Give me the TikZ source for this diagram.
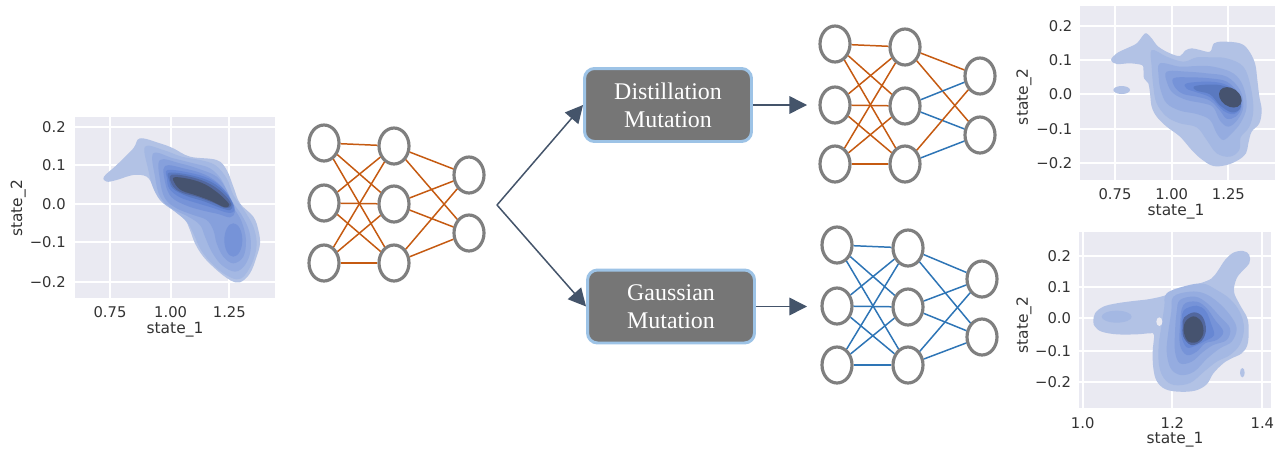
\documentclass[tikz,border=0pt]{standalone}
\usepackage{fontspec}
\setmainfont{Liberation Serif}
\newfontfamily\djv{DejaVu Sans}
\usetikzlibrary{shapes.geometric,arrows.meta}
\definecolor{ngray}{HTML}{7F7F7F}
\definecolor{eorange}{HTML}{C55A11}
\definecolor{eblue}{HTML}{2E75B6}
\definecolor{boxgray}{HTML}{767676}
\definecolor{boxblue}{HTML}{9DC3E6}
\definecolor{arrowc}{HTML}{44546A}
\definecolor{plotbg}{HTML}{EAEAF2}
\definecolor{tickc}{HTML}{333333}
\definecolor{lv1}{HTML}{B2C2E5}
\definecolor{lv2}{HTML}{A4B8E3}
\definecolor{lv3}{HTML}{95ACE0}
\definecolor{lv4}{HTML}{86A0DC}
\definecolor{lv5}{HTML}{7693D8}
\definecolor{lv6}{HTML}{6787D3}
\definecolor{lv7}{HTML}{5A79C0}
\definecolor{lv8}{HTML}{52679E}
\definecolor{lv9}{HTML}{46536F}
\begin{document}
\begin{tikzpicture}[x=0.02cm, y=-0.02cm,
  neuron/.style={ellipse, draw=ngray, line width=1.8pt, minimum width=0.6cm, minimum height=0.72cm, inner sep=0pt},
  oe/.style={draw=eorange, line width=0.85pt},
  be/.style={draw=eblue, line width=0.85pt},
  mbox/.style={rounded corners=0.2cm, fill=boxgray, draw=boxblue, line width=1.7pt, minimum width=3.34cm, minimum height=1.46cm, text=white, font=\fontsize{13.6}{16}\selectfont, align=center, inner sep=0pt},
  arr/.style={draw=arrowc, line width=0.85pt, -{Triangle[length=10pt,width=10pt]}},
  gridl/.style={draw=white, line width=1pt},
  tickl/.style={font=\djv\fontsize{8.4}{10}\selectfont, text=tickc, inner sep=0pt},
  axl/.style={font=\djv\fontsize{8.8}{10}\selectfont, text=tickc, inner sep=0pt},
  kde/.style={smooth cycle, tension=0.6},
]
\fill[white] (0,0) rectangle (1283,450);
\useasboundingbox (0,0) rectangle (1283,450);

% ---------------- left plot ----------------
\begin{scope}[shift={(0,110)}, scale=1/3]
  \fill[plotbg] (225,20) rectangle (825,565);
  \foreach \gx in {330,512,688} \draw[gridl] (\gx,20) -- (\gx,565);
  \foreach \gy in {50,165,282,397,515} \draw[gridl] (225,\gy) -- (825,\gy);
  \fill[lv1] plot[kde] coordinates {(312,200) (350,165) (400,115) (420,85) (480,100) (520,115) (570,140) (650,150) (680,180) (700,230) (720,280) (760,320) (775,360) (780,400) (770,440) (750,490) (720,517) (690,510) (650,480) (610,440) (585,400) (570,360) (555,330) (520,300) (480,270) (460,230) (440,200) (400,195) (350,210) (320,215)};
  \fill[lv2] plot[kde] coordinates {(435,110) (490,120) (545,140) (600,150) (645,165) (680,205) (700,255) (735,305) (760,350) (770,400) (760,450) (735,495) (710,508) (670,490) (630,455) (600,415) (580,370) (560,335) (525,305) (485,275) (460,235) (445,180)};
  \fill[lv3] plot[kde] coordinates {(460,130) (520,145) (580,160) (630,175) (665,210) (690,265) (725,315) (748,365) (752,420) (735,465) (705,485) (665,465) (635,425) (615,380) (600,345) (565,320) (515,295) (480,260) (465,200)};
  \fill[lv4] plot[kde] coordinates {(480,150) (540,160) (600,178) (650,200) (680,240) (700,290) (725,335) (738,390) (730,440) (700,460) (670,440) (650,400) (640,360) (620,330) (580,315) (530,295) (495,265) (480,210)};
  \fill[lv5] (700,390) ellipse [x radius=27, y radius=50];
  \fill[lv5] plot[kde] coordinates {(495,168) (555,176) (615,194) (660,225) (690,270) (705,305) (690,322) (655,312) (610,302) (560,287) (515,262) (496,220)};
  \fill[lv6] plot[kde] coordinates {(503,180) (568,188) (628,206) (672,238) (698,278) (703,303) (682,308) (640,294) (590,279) (540,262) (508,236) (501,205)};
  \fill[lv7] plot[kde] coordinates {(508,188) (574,196) (634,216) (678,250) (698,283) (690,300) (660,293) (612,274) (560,258) (519,236) (507,210)};
  \fill[lv8] plot[kde] coordinates {(513,195) (576,202) (632,223) (675,256) (694,285) (677,294) (642,279) (592,261) (546,248) (519,229)};
  \fill[lv9] plot[kde] coordinates {(522,202) (572,208) (617,224) (660,254) (688,284) (672,291) (632,272) (588,256) (546,242) (526,223)};
  \node[tickl, anchor=east] (ly1) at (198,50) {0.2};
  \node[tickl, anchor=east] (ly2) at (198,165) {0.1};
  \node[tickl, anchor=east] (ly3) at (198,282) {0.0};
  \node[tickl, anchor=east] (ly4) at (198,397) {−0.1};
  \node[tickl, anchor=east] (ly5) at (198,515) {−0.2};
  \node[tickl] (lx1) at (330,607) {0.75};
  \node[tickl] (lx2) at (512,607) {1.00};
  \node[tickl] (lx3) at (688,607) {1.25};
  \node[axl] (lxl) at (525,659) {state\_1};
  \node[axl, rotate=90] (lyl) at (55,295) {state\_2};
\end{scope}

% ---------------- top right plot ----------------
\begin{scope}[shift={(1010,0)}, scale=1/3]
  \fill[plotbg] (210,18) rectangle (795,540);
  \foreach \gx in {315,485,655} \draw[gridl] (\gx,18) -- (\gx,540);
  \foreach \gy in {78,180,283,387,490} \draw[gridl] (210,\gy) -- (795,\gy);
  \fill[lv1] plot[kde] coordinates {(303,180) (320,160) (350,145) (380,130) (400,105) (410,100) (425,115) (445,140) (480,160) (510,168) (525,152) (545,145) (570,150) (600,155) (612,130) (640,125) (690,130) (715,150) (735,190) (742,240) (748,290) (755,330) (748,370) (725,395) (715,430) (708,460) (685,480) (650,495) (610,498) (575,478) (545,450) (510,410) (470,380) (440,350) (425,320) (420,280) (415,250) (402,235) (400,205) (395,195) (360,190) (320,192)};
  \fill[lv1] (335,270) ellipse [x radius=25, y radius=12];
  \fill[lv2] plot[kde] coordinates {(425,150) (470,170) (520,185) (560,172) (600,172) (650,175) (700,200) (722,260) (730,330) (718,380) (692,412) (688,450) (660,470) (620,460) (590,420) (560,382) (510,370) (470,350) (440,310) (430,260) (425,200)};
  \fill[lv3] plot[kde] coordinates {(450,190) (510,200) (560,198) (610,200) (670,220) (700,260) (710,320) (692,368) (665,400) (640,420) (620,400) (600,360) (560,342) (510,332) (470,310) (452,270) (446,230)};
  \fill[lv4] plot[kde] coordinates {(470,215) (530,215) (590,220) (650,230) (690,270) (700,320) (682,360) (655,380) (630,362) (610,322) (580,310) (530,300) (490,280) (472,250)};
  \fill[lv5] plot[kde] coordinates {(490,235) (540,232) (600,235) (650,245) (685,280) (695,320) (677,350) (650,356) (630,332) (600,302) (560,290) (520,282) (495,262)};
  \fill[lv6] plot[kde] coordinates {(530,250) (600,245) (650,255) (685,285) (692,320) (672,342) (640,332) (602,293) (560,277) (530,266)};
  \fill[lv7] plot[kde] coordinates {(555,258) (620,254) (665,268) (690,298) (690,326) (665,337) (630,316) (600,283) (560,272)};
  \fill[lv9, rotate around={-35:(661,292)}] (661,292) ellipse [x radius=37, y radius=27];
  \node[tickl, anchor=east] (ty1) at (188,78) {0.2};
  \node[tickl, anchor=east] (ty2) at (188,180) {0.1};
  \node[tickl, anchor=east] (ty3) at (188,283) {0.0};
  \node[tickl, anchor=east] (ty4) at (188,387) {−0.1};
  \node[tickl, anchor=east] (ty5) at (188,490) {−0.2};
  \node[tickl] (tx1) at (315,583) {0.75};
  \node[tickl] (tx2) at (485,583) {1.00};
  \node[tickl] (tx3) at (655,583) {1.25};
  \node[axl] (txl) at (498,634) {state\_1};
  \node[axl, rotate=90] (tyl) at (42,290) {state\_2};
\end{scope}

% ---------------- bottom right plot ----------------
\begin{scope}[shift={(1010,225)}, scale=1/3]
  \fill[plotbg] (208,20) rectangle (783,548);
  \foreach \gx in {218,487,757} \draw[gridl] (\gx,20) -- (\gx,548);
  \foreach \gy in {92,187,280,377,470} \draw[gridl] (208,\gy) -- (783,\gy);
  \fill[lv1] plot[kde] coordinates {(250,290) (255,265) (280,245) (320,235) (370,228) (420,222) (470,210) (520,190) (570,175) (605,160) (625,135) (645,105) (670,83) (700,78) (718,90) (718,115) (700,135) (680,160) (672,200) (690,240) (712,280) (716,320) (712,360) (695,385) (665,400) (640,415) (610,445) (590,478) (555,497) (505,500) (465,492) (440,468) (430,430) (428,380) (432,330) (420,325) (380,328) (320,328) (275,320) (255,305)};
  \fill[lv2] (320,275) ellipse [x radius=45, y radius=18];
  \fill[lv1] (697,443) ellipse [x radius=7, y radius=14];
  \fill[lv2] plot[kde] coordinates {(470,205) (530,182) (580,176) (620,195) (660,222) (690,262) (702,310) (690,358) (660,390) (620,410) (582,440) (540,474) (492,480) (462,460) (447,420) (446,360) (455,300) (463,245)};
  \fill[lv3] plot[kde] coordinates {(490,215) (540,200) (582,205) (622,230) (660,270) (680,310) (665,350) (630,370) (592,400) (552,440) (512,450) (482,430) (470,380) (475,320) (484,260)};
  \fill[lv4] plot[kde] coordinates {(510,225) (555,215) (592,235) (630,275) (660,310) (650,345) (610,360) (580,380) (545,410) (510,415) (495,380) (495,320) (500,260)};
  \fill[lv5] plot[kde] coordinates {(520,240) (560,230) (590,250) (615,285) (640,320) (620,345) (585,355) (560,380) (530,390) (510,360) (510,300)};
  \fill[lv6] plot[kde] coordinates {(522,255) (560,242) (587,258) (603,295) (612,330) (587,347) (557,362) (530,367) (514,332) (515,285)};
  \fill[lv8] plot[kde] coordinates {(522,278) (552,262) (578,276) (588,315) (574,348) (543,360) (520,335) (518,300)};
  \fill[lv9] plot[kde] coordinates {(525,292) (550,274) (574,290) (580,325) (563,350) (536,350) (522,325)};
  \fill[plotbg] (448,290) ellipse [x radius=9, y radius=13];
  \node[tickl, anchor=east] (by1) at (184,92) {0.2};
  \node[tickl, anchor=east] (by2) at (184,187) {0.1};
  \node[tickl, anchor=east] (by3) at (184,280) {0.0};
  \node[tickl, anchor=east] (by4) at (184,377) {−0.1};
  \node[tickl, anchor=east] (by5) at (184,470) {−0.2};
  \node[tickl] (bx1) at (218,594) {1.0};
  \node[tickl] (bx2) at (487,594) {1.2};
  \node[tickl] (bx3) at (757,594) {1.4};
  \node[axl] (bxl) at (495,645) {state\_1};
  \node[axl, rotate=90] (byl) at (42,300) {state\_2};
\end{scope}

% ---------------- network 1 ----------------
\node[neuron] (a1) at (324,143) {};
\node[neuron] (a2) at (324,203) {};
\node[neuron] (a3) at (324,263) {};
\node[neuron] (b1) at (394,146) {};
\node[neuron] (b2) at (394,204) {};
\node[neuron] (b3) at (394,263) {};
\node[neuron] (c1) at (469,175) {};
\node[neuron] (c2) at (469,233) {};
\foreach \i in {1,2,3} {
  \foreach \j in {1,2,3} \draw[oe] (a\i) -- (b\j);
  \foreach \j in {1,2} \draw[oe] (b\i) -- (c\j);
}

% ---------------- network 2 (top) ----------------
\node[neuron] (d1) at (835,44) {};
\node[neuron] (d2) at (835,105) {};
\node[neuron] (d3) at (835,164) {};
\node[neuron] (e1) at (905,47) {};
\node[neuron] (e2) at (905,106) {};
\node[neuron] (e3) at (905,164) {};
\node[neuron] (f1) at (980,76) {};
\node[neuron] (f2) at (980,135) {};
\foreach \i in {1,2,3} {
  \foreach \j in {1,2,3} \draw[oe] (d\i) -- (e\j);
}
\draw[oe] (e1) -- (f1);
\draw[oe] (e1) -- (f2);
\draw[be] (e2) -- (f1);
\draw[be] (e2) -- (f2);
\draw[oe] (e3) -- (f1);
\draw[be] (e3) -- (f2);

% ---------------- network 3 (bottom) ----------------
\node[neuron] (g1) at (837,245) {};
\node[neuron] (g2) at (837,306) {};
\node[neuron] (g3) at (837,365) {};
\node[neuron] (h1) at (908,248) {};
\node[neuron] (h2) at (908,307) {};
\node[neuron] (h3) at (908,365) {};
\node[neuron] (k1) at (982,279) {};
\node[neuron] (k2) at (982,337) {};
\foreach \i in {1,2,3} {
  \foreach \j in {1,2,3} \draw[be] (g\i) -- (h\j);
  \foreach \j in {1,2} \draw[be] (h\i) -- (k\j);
}

% ---------------- mutation boxes and arrows ----------------
\node[mbox] (dm) at (668,105) {Distillation\\Mutation};
\node[mbox] (gm) at (671,306.5) {Gaussian\\Mutation};
\coordinate (split) at (497,205);
\coordinate (dend) at (807,105);
\coordinate (gend) at (807,306.5);
\draw[arr] (split) -- (dm.west);
\draw[arr] (split) -- (gm.west);
\draw[arr] (dm.east) -- (dend);
\draw[arr] (gm.east) -- (gend);
\end{tikzpicture}
\end{document}
